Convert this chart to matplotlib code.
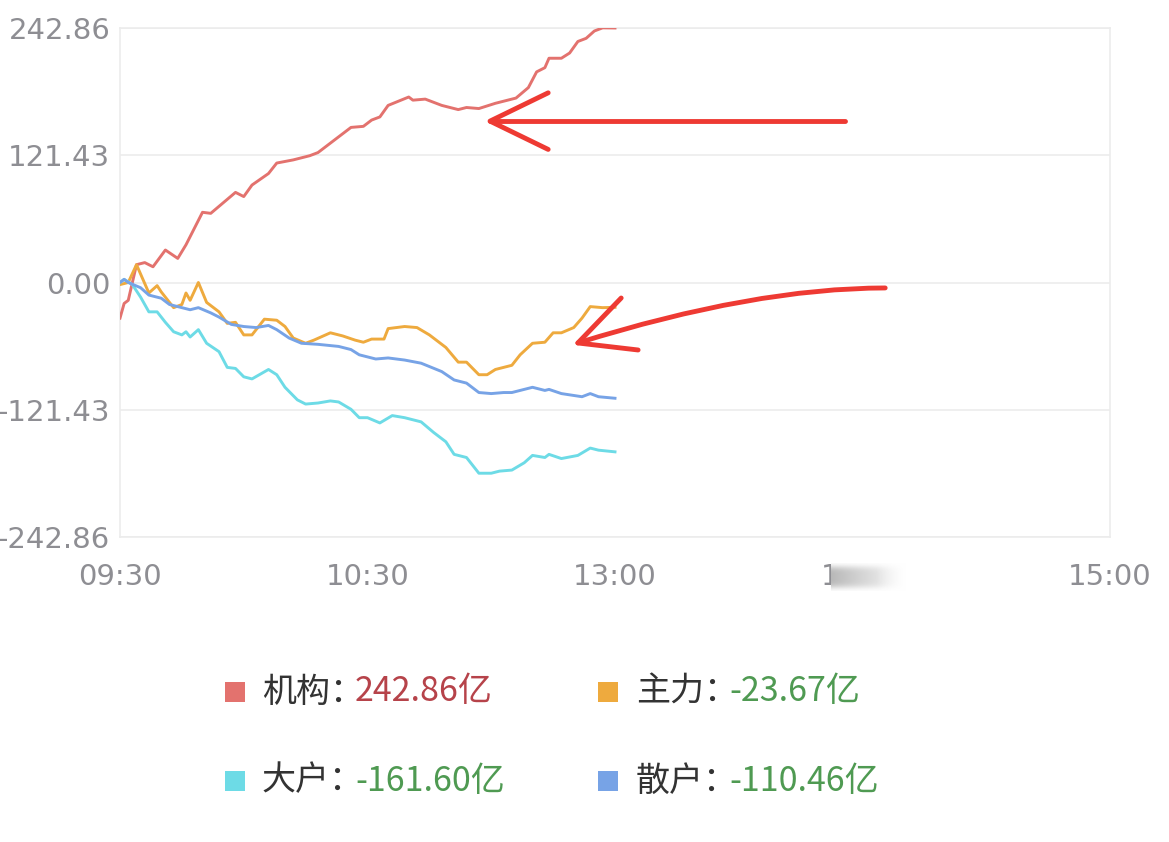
import numpy as np
import matplotlib
matplotlib.use('Agg')
import matplotlib.pyplot as plt
from matplotlib.patches import Rectangle, PathPatch
from matplotlib.path import Path

plt.rcParams['font.family'] = ['DejaVu Sans']

# minutes after 09:30 (trading minutes, 240 = 15:00), values in 亿
jg_min = [0, 1, 2, 3, 4, 6, 8, 11, 14, 16, 20, 22, 25, 28, 30, 32, 36, 38, 42, 46, 48, 52, 56, 59,
          61, 63, 65, 70, 71, 74, 78, 82, 84, 87, 91, 95, 96, 99, 101, 103, 104, 107, 109, 111,
          113, 115, 117, 120]
jg_val = [-34, -20, -17, 0, 17, 19, 15, 31, 23, 36, 67, 66, 76, 86, 82, 93, 104, 114, 117, 121,
          124, 136, 148, 149, 155, 158, 169, 177, 174, 175, 169, 165, 167, 166, 171, 175, 176,
          186, 201, 205, 214, 214, 219, 230, 233, 240, 243, 242.86]

zl_min = [0, 2, 4, 7, 9, 10, 12, 13, 15, 16, 17, 19, 21, 24, 26, 28, 30, 32, 35, 38, 40, 42, 45,
          47, 51, 54, 57, 59, 61, 64, 65, 69, 72, 75, 79, 82, 84, 87, 89, 91, 95, 97, 100, 103,
          105, 107, 110, 112, 114, 117, 120]
zl_val = [-2, 0, 17, -10, -3, -9, -19, -24, -21, -10, -17, 0, -19, -28, -39, -38, -50, -50, -35,
          -36, -42, -53, -58, -55, -48, -51, -55, -57, -54, -54, -44, -42, -43, -50, -62, -76,
          -76, -88, -88, -83, -79, -69, -58, -57, -48, -48, -43, -34, -23, -24, -23.67]

dh_min = [0, 1, 3, 5, 7, 9, 11, 13, 15, 16, 17, 19, 21, 24, 26, 28, 30, 32, 36, 38, 40, 43, 45,
          48, 51, 53, 56, 58, 60, 63, 66, 69, 73, 76, 79, 81, 84, 87, 90, 92, 95, 98, 100, 103,
          104, 107, 111, 114, 116, 120]
dh_val = [0, 3, -2, -14, -28, -28, -38, -47, -50, -47, -52, -45, -58, -66, -81, -82, -90, -92,
          -83, -88, -100, -112, -116, -115, -113, -114, -121, -129, -129, -134, -127, -129, -133,
          -143, -152, -164, -167, -182, -182, -180, -179, -172, -165, -167, -164, -168, -165,
          -158, -160, -161.60]

sh_min = [0, 1, 2, 5, 7, 10, 12, 15, 17, 19, 22, 24, 27, 30, 33, 36, 38, 41, 44, 48, 53, 56, 58,
          62, 65, 69, 73, 78, 81, 84, 87, 90, 93, 95, 100, 103, 104, 107, 112, 114, 116, 120]
sh_val = [0, 3, 0, -5, -12, -15, -21, -24, -26, -24, -29, -33, -40, -42, -43, -41, -45, -53, -58,
          -59, -61, -64, -69, -73, -72, -74, -77, -85, -93, -96, -105, -106, -105, -105, -100,
          -103, -102, -106, -109, -106, -109, -110.46]

names = ['机构', '主力', '大户', '散户']
finals = ['242.86亿', '-23.67亿', '-161.60亿', '-110.46亿']
colors = ['#e3726e', '#eeaa3e', '#6ddbe6', '#77a3e6']
value_colors = ['#b6434a', '#4f9a52', '#4f9a52', '#4f9a52']

ymax = 242.86
yticks = [-242.86, -121.43, 0, 121.43, 242.86]
xticks = [0, 60, 120, 180, 240]
xlabels = ['09:30', '10:30', '13:00', '14:00', '15:00']

grid_c = '#ececec'
tick_c = '#8e8e93'

fig = plt.figure(figsize=(11.69, 8.42), dpi=100)
ax = fig.add_axes([120 / 1169, 1 - 537 / 842, 990 / 1169, 509 / 842])

for xs, ys, c in zip([jg_min, zl_min, dh_min, sh_min], [jg_val, zl_val, dh_val, sh_val], colors):
    ax.plot(xs, ys, color=c, lw=2.1, solid_joinstyle='round', zorder=3)

ax.set_xlim(0, 240)
ax.set_ylim(-ymax, ymax)
ax.set_yticks(yticks)
ax.set_yticklabels(['%.2f' % v for v in yticks])
ax.set_xticks(xticks)
ax.set_xticklabels(xlabels)
ax.tick_params(length=0, labelsize=21, labelcolor=tick_c)
ax.tick_params(axis='y', pad=7)
ax.tick_params(axis='x', pad=19)
for s in ax.spines.values():
    s.set_color(grid_c)
    s.set_linewidth(1.2)
ax.grid(axis='y', color=grid_c, lw=1.2)
ax.set_axisbelow(True)

# hand-drawn red arrows
arrow_c = '#ee3a33'
ax.plot([175.8, 89.7], [154, 154], color=arrow_c, lw=3.5, solid_capstyle='round', zorder=5)
ax.plot([103.8, 89.7, 103.8], [181, 154, 127], color=arrow_c, lw=3.5,
        solid_capstyle='round', solid_joinstyle='round', zorder=5)
curve = Path([(185.5, -5.2), (153.7, -5.2), (111, -57.7)], [Path.MOVETO, Path.CURVE3, Path.CURVE3])
ax.add_patch(PathPatch(curve, fill=False, edgecolor=arrow_c, lw=3.5, capstyle='round', zorder=5))
ax.plot([121.5, 111, 125.6], [-14.8, -57.7, -64.4], color=arrow_c, lw=3.5,
        solid_capstyle='round', solid_joinstyle='round', zorder=5)

# blurred part of the 14:00 label
fig.canvas.draw()
lab = ax.get_xticklabels()[3]
bb = lab.get_window_extent()
gx0 = bb.x0 + 10
gw = 75
gh = 28
bax = fig.add_axes([gx0 / 1169, (bb.y0 + bb.height / 2 - gh / 2) / 842, gw / 1169, gh / 842])
hx = np.linspace(0, 1, 200)
vy = np.linspace(-1, 1, 60)
fade = (1 - hx) ** 1.2
vert = np.exp(-(vy / 0.8) ** 4)
alpha = np.outer(vert, fade) * 0.7 + np.outer(vert, np.ones_like(hx)) * 0.12
img = np.ones((60, 200, 4))
img[..., :3] = 0.66
img[..., 3] = np.clip(alpha, 0, 1)
bg = np.ones((60, 200, 3))
bax.imshow(bg, aspect='auto')
bax.imshow(img, aspect='auto')
fade_edge = np.ones((60, 200, 4))
fade_edge[..., 3] = np.clip((hx[None, :] - 0.6) / 0.4, 0, 1) * np.ones((60, 1))
bax.imshow(fade_edge, aspect='auto')
bax.axis('off')

# legend
cjk = ['Noto Sans CJK SC', 'DejaVu Sans']
rows = [1 - 692 / 842, 1 - 781 / 842]
cols = [(225, 262, 355), (598, 636, 729)]
for i, (n, v, c, vc) in enumerate(zip(names, finals, colors, value_colors)):
    ry = rows[i // 2]
    sx, lx, vx = cols[i % 2]
    fig.patches.append(Rectangle((sx / 1169, ry - 10 / 842), 20 / 1169, 20 / 842,
                                 transform=fig.transFigure, facecolor=c, edgecolor='none'))
    fig.text(lx / 1169, ry, n + '：', family=cjk, fontsize=24.5, color='#333333',
             ha='left', va='center')
    fig.text(vx / 1169, ry, v, family=cjk, fontsize=24.5, color=vc, ha='left', va='center')

fig.savefig('out.png', dpi=100, facecolor='white')
